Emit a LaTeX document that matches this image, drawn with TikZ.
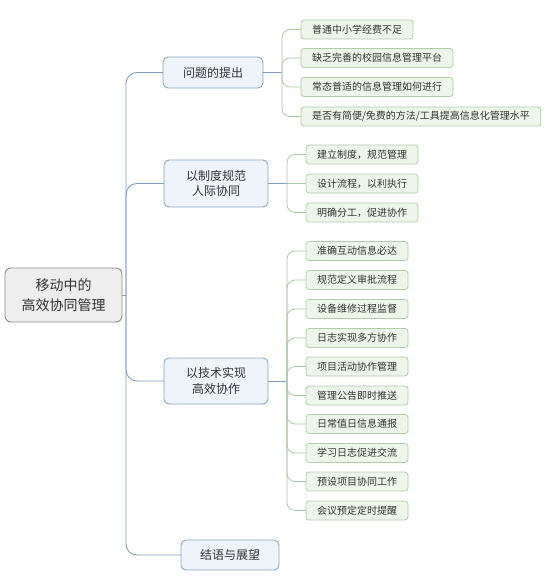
\documentclass[tikz,border=0pt]{standalone}
\usepackage{fontspec}
\setmainfont{Noto Sans CJK SC}
\definecolor{rootfill}{HTML}{EEEEEE}
\definecolor{rootdraw}{HTML}{8C8C8C}
\definecolor{lonefill}{HTML}{EEF4F9}
\definecolor{lonedraw}{HTML}{8AA6C4}
\definecolor{ltwofill}{HTML}{EEF6EC}
\definecolor{ltwodraw}{HTML}{AFCDA7}
\definecolor{conone}{HTML}{7E9FC2}
\definecolor{contwo}{HTML}{A9C9A1}
\definecolor{txt}{HTML}{333333}
\begin{document}
\begin{tikzpicture}[x=1pt,y=-1pt,
  rootbox/.style={draw=rootdraw, fill=rootfill, line width=0.9pt, rounded corners=6pt, align=center, text=txt, font=\fontsize{14}{20}\selectfont, inner sep=0pt, outer sep=0pt},
  lonebox/.style={draw=lonedraw, fill=lonefill, line width=0.9pt, rounded corners=5pt, align=center, text=txt, font=\fontsize{12}{15.5}\selectfont, inner sep=0pt, outer sep=0pt},
  ltwobox/.style={draw=ltwodraw, fill=ltwofill, line width=0.8pt, rounded corners=3pt, anchor=west, text=txt, font=\fontsize{10}{12}\selectfont, inner xsep=11pt, inner ysep=0pt, minimum height=19pt, outer sep=0pt},
  cone/.style={draw=conone, line width=0.9pt},
  ctwo/.style={draw=contwo, line width=0.8pt, rounded corners=8pt}
]
\useasboundingbox (0,0) rectangle (548,580);
\fill[white] (0,0) rectangle (548,580);

% root
\node[rootbox, minimum width=117pt, minimum height=54pt] (root) at (63.5,295) {移动中的\\高效协同管理};

% level 1
\node[lonebox, minimum width=100pt, minimum height=31pt] (a) at (213,72.5) {问题的提出};
\node[lonebox, minimum width=104pt, minimum height=47pt] (b) at (216,183.5) {以制度规范\\人际协同};
\node[lonebox, minimum width=104pt, minimum height=46pt] (c) at (216,381) {以技术实现\\高效协作};
\node[lonebox, minimum width=98pt, minimum height=30pt] (d) at (230,555) {结语与展望};

% trunk
\coordinate (tk) at (126,295);
\draw[cone] (root.east) -- (tk);
\foreach \n in {a,b,c,d} \draw[cone, rounded corners=11pt] (tk) |- (\n.west);

% children of a
\node[ltwobox] (a1) at (301,29.5) {普通中小学经费不足};
\node[ltwobox] (a2) at (301,58) {缺乏完善的校园信息管理平台};
\node[ltwobox] (a3) at (301,87) {常态普适的信息管理如何进行};
\node[ltwobox] (a4) at (301,116.5) {是否有简便/免费的方法/工具提高信息化管理水平};
\coordinate (ak) at (282,72.5);
\draw[cone] (a.east) -- (ak);
\foreach \n in {a1,a2,a3,a4} \draw[ctwo] (ak) |- (\n.west);

% children of b
\node[ltwobox] (b1) at (306,154.5) {建立制度，规范管理};
\node[ltwobox] (b2) at (306,183.5) {设计流程，以利执行};
\node[ltwobox] (b3) at (306,212.5) {明确分工，促进协作};
\coordinate (bk) at (287,183.5);
\draw[cone] (b.east) -- (bk);
\foreach \n in {b1,b3} \draw[ctwo] (bk) |- (\n.west);
\draw[ctwo] (bk) -- (b2.west);

% children of c
\node[ltwobox] (c1) at (306,251) {准确互动信息必达};
\node[ltwobox] (c2) at (306,280) {规范定义审批流程};
\node[ltwobox] (c3) at (306,309) {设备维修过程监督};
\node[ltwobox] (c4) at (306,338) {日志实现多方协作};
\node[ltwobox] (c5) at (306,366.5) {项目活动协作管理};
\node[ltwobox] (c6) at (306,395.5) {管理公告即时推送};
\node[ltwobox] (c7) at (306,424) {日常值日信息通报};
\node[ltwobox] (c8) at (306,453) {学习日志促进交流};
\node[ltwobox] (c9) at (306,481.5) {预设项目协同工作};
\node[ltwobox] (c10) at (306,510.5) {会议预定定时提醒};
\coordinate (ck) at (287,381);
\draw[cone] (c.east) -- (ck);
\foreach \n in {c1,c2,c3,c4,c5,c6,c7,c8,c9,c10} \draw[ctwo] (ck) |- (\n.west);
\end{tikzpicture}
\end{document}
